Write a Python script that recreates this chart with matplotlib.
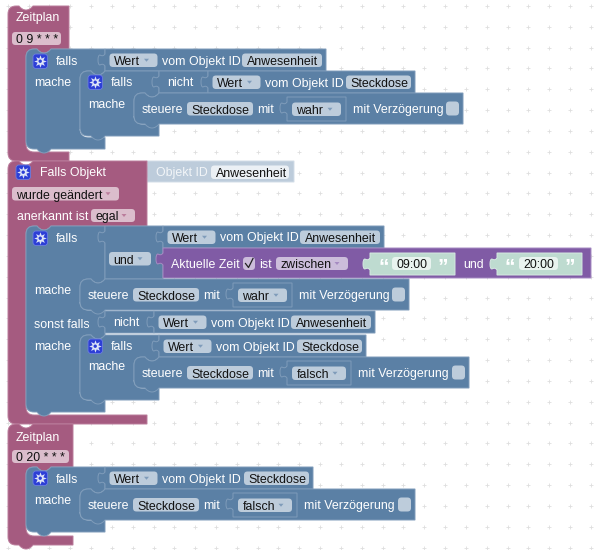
# -*- coding: utf-8 -*-
# Blockly-Skript (Zeitplan / Falls Objekt) als Zeichnung nachgebaut
import matplotlib
matplotlib.use("Agg")
import matplotlib.pyplot as plt
import numpy as np
from matplotlib.patches import FancyBboxPatch, PathPatch, Circle, Polygon
from matplotlib.path import Path

plt.rcParams['font.family'] = ['Liberation Sans', 'DejaVu Sans']

# =============================================================================
# TEXTE
# =============================================================================
ZEITPLAN_1 = '0 9 * * *'
ZEITPLAN_2 = '0 20 * * *'
OBJ_ANWESEND = 'Anwesenheit'
OBJ_DOSE = 'Steckdose'
WAHR = 'wahr'
FALSCH = 'falsch'
VERZOEGERUNG = 'mit Verzögerung'
ZEIT_VON = '09:00'
ZEIT_BIS = '20:00'

# Farben
PINK, PINK_EDGE, PINK_FIELD = '#a55b80', '#bb7d9c', '#dbbdcc'
BLUE, BLUE_EDGE, BLUE_FIELD = '#5b80a5', '#7f9cba', '#bdccdb'
LILA, LILA_EDGE, LILA_FIELD = '#805ba5', '#a68bc2', '#ccbddb'
GREEN, GREEN_EDGE, GREEN_FIELD = '#bedbd0', '#d6e9e2', '#e9f3ef'
SHADOW, SHADOW_EDGE = '#bdccdb', '#d3deE8'
FS = 8.9

fig = plt.figure(figsize=(5.98, 5.50), dpi=100)
ax = fig.add_axes([0, 0, 1, 1])
ax.set_xlim(0, 598)
ax.set_ylim(550, 0)
ax.axis('off')

z = 10


def nz():
    global z
    z += 1
    return z


def block_path(x0, y0, xr, y1, arms=(), xi=None, bump=True, notch=True):
    """Umriss eines Blocks, arms sind die (y_oben, y_unten) der Einzuege."""
    v = [(x0, y0 + 8)]
    c = [Path.MOVETO]

    def line(x, y):
        v.append((x, y))
        c.append(Path.LINETO)

    def curve(cx, cy, x, y):
        v.extend([(cx, cy), (x, y)])
        c.extend([Path.CURVE3, Path.CURVE3])

    curve(x0, y0, x0 + 8, y0)
    if notch:
        line(x0 + 11, y0)
        curve(x0 + 14, y0 + 4, x0 + 18, y0 + 4)
        curve(x0 + 22, y0 + 4, x0 + 25, y0)
    line(xr, y0)
    for ya, yb in arms:
        line(xr, ya)
        line(xi + 25, ya)
        curve(xi + 22, ya + 4, xi + 18, ya + 4)
        curve(xi + 14, ya + 4, xi + 11, ya)
        line(xi + 8, ya)
        curve(xi, ya, xi, ya + 8)
        line(xi, yb - 8)
        curve(xi, yb, xi + 8, yb)
        line(xr, yb)
    line(xr, y1)
    if bump:
        line(x0 + 25, y1)
        curve(x0 + 22, y1 + 4, x0 + 18, y1 + 4)
        curve(x0 + 14, y1 + 4, x0 + 11, y1)
    line(x0 + 8, y1)
    curve(x0, y1, x0, y1 - 8)
    v.append((x0, y0 + 8))
    c.append(Path.CLOSEPOLY)
    return Path(v, c)


def white_strip(xi, yb):
    # heller Streifen unter dem eingehaengten Block
    t = np.linspace(0, np.pi / 2, 10)
    xs = list(xi + 8 - 7 * np.cos(t)) + [xi + 26]
    ys = list(yb - 8 + 7 * np.sin(t)) + [yb - 1]
    ax.plot(xs, ys, color='white', lw=1.8, solid_capstyle='butt', zorder=nz())


def stmt(x0, y0, xr, y1, fc, ec, arms=(), xi=None, bump=True, white=False):
    ax.add_patch(PathPatch(block_path(x0, y0, xr, y1, arms, xi, bump),
                           fc=fc, ec=ec, lw=0.7, zorder=nz()))
    if white:
        for ya, yb in arms:
            white_strip(xi, yb)


def value_block(x0, y0, x1, y1, fc, ec):
    t = y0 + 5
    v = [(x0, y0), (x1, y0), (x1, y1), (x0, y1), (x0, t + 12),
         (x0 - 2, t + 9), (x0 - 5, t + 11), (x0 - 7, t + 11), (x0 - 7, t + 6), (x0 - 7, t + 1),
         (x0 - 5, t + 1), (x0 - 2, t + 3), (x0, t), (x0, y0)]
    c = [Path.MOVETO, Path.LINETO, Path.LINETO, Path.LINETO, Path.LINETO,
         Path.CURVE3, Path.CURVE3, Path.CURVE3, Path.CURVE3, Path.CURVE3,
         Path.CURVE3, Path.CURVE3, Path.CURVE3, Path.CLOSEPOLY]
    ax.add_patch(PathPatch(Path(v, c), fc=fc, ec=ec, lw=0.7, zorder=nz()))


def label(x, y, s, color='white', **kw):
    ax.text(x, y, s, color=color, fontsize=kw.pop('fontsize', FS), ha='left',
            va='center_baseline', zorder=nz(), **kw)


def field(x0, y0, x1, y1, s=None, fc=BLUE_FIELD, arrow=None, tx=4.5):
    ax.add_patch(FancyBboxPatch((x0 + 3, y0 + 3), x1 - x0 - 6, y1 - y0 - 6,
                                boxstyle='round,pad=3,rounding_size=3.5', fc=fc, ec='none', zorder=nz()))
    if s:
        label(x0 + tx, (y0 + y1) / 2 + 0.3, s, color='#111111')
    if arrow:
        ym = (y0 + y1) / 2
        ax.add_patch(Polygon([(x1 - 13.5, ym - 1.5), (x1 - 8.5, ym - 1.5), (x1 - 11, ym + 1.5)],
                             fc=arrow, ec='none', zorder=nz()))


def gear(x, y):
    ax.add_patch(FancyBboxPatch((x + 2, y + 2), 10.5, 10.5, boxstyle='round,pad=2,rounding_size=3',
                                fc='#2d3fd6', ec='#6c7fe0', lw=0.6, zorder=nz()))
    cx, cy = x + 7.2, y + 7.2
    ax.plot([cx], [cy], marker=(8, 1, 0), ms=9, color='#dfe6f8', mew=0, zorder=nz())
    ax.add_patch(Circle((cx, cy), 1.7, fc='#2d3fd6', ec='none', zorder=nz()))


def wert(x, y, name, x1):
    value_block(x, y, x1, y + 22, BLUE, BLUE_EDGE)
    field(x + 4.5, y + 4.5, x + 52.5, y + 18, 'Wert', arrow=BLUE_EDGE)
    label(x + 57, y + 11, 'vom Objekt ID')
    breite = 80 if name == OBJ_ANWESEND else 65
    field(x1 - 4 - breite, y + 4.5, x1 - 4, y + 18, name)


def nicht(x, y, x1):
    value_block(x, y, x1, y + 22, BLUE, BLUE_EDGE)
    label(x + 8, y + 11, 'nicht')


def steuere(x, y, x1, wert_txt, bw):
    """set-Block: Text, gesteckter Wahrheitswert, Haekchenfeld."""
    ax.add_patch(PathPatch(block_path(x, y, x1, y + 31), fc=BLUE, ec=BLUE_EDGE, lw=0.7, zorder=nz()))
    label(x + 8, y + 15.5, 'steuere')
    field(x + 53, y + 9, x + 119, y + 22.5, OBJ_DOSE)
    label(x + 123.5, y + 15.5, 'mit')
    value_block(x + 153, y + 4, x + 153 + bw, y + 28, BLUE, BLUE_EDGE)
    field(x + 158, y + 9.5, x + 153 + bw - 5, y + 23, wert_txt, arrow=BLUE_EDGE)
    label(x + 153 + bw + 7, y + 15.5, VERZOEGERUNG)
    field(x1 - 17, y + 8.5, x1 - 4, y + 22.5)


# =============================================================================
# RASTERPUNKTE
# =============================================================================
gx, gy = np.meshgrid(7.7 + 20.83 * np.arange(29), 6 + 20.83 * np.arange(27))
ax.plot(gx.ravel(), gy.ravel(), ls='none', marker='+', ms=3, mew=0.6, color='#dedede', zorder=1)

# =============================================================================
# ERSTER ZEITPLAN
# =============================================================================
stmt(8, 6, 69, 161, PINK, PINK_EDGE, arms=[(49, 152)], xi=26, bump=False)
label(16, 17, 'Zeitplan')
field(12, 32, 61, 45, ZEITPLAN_1, fc=PINK_FIELD)

stmt(26, 49, 105, 149, BLUE, BLUE_EDGE, arms=[(71, 137)], xi=80, white=True)
gear(33, 54)
label(56, 60.5, 'falls')
label(34, 81, 'mache')
wert(105, 49, OBJ_ANWESEND, 326)

stmt(80, 71, 159, 136, BLUE, BLUE_EDGE, arms=[(93, 124)], xi=134, white=True)
gear(88, 75)
label(111, 82, 'falls')
label(88, 103, 'mache')
nicht(159, 71, 208)
wert(208, 71, OBJ_DOSE, 415)
steuere(134, 93, 463, WAHR, 59)

# =============================================================================
# FALLS OBJEKT
# =============================================================================
value_block(147, 161, 294, 182, SHADOW, SHADOW_EDGE)
stmt(8, 161, 147, 424, PINK, PINK_EDGE, arms=[(226, 415)], xi=26, bump=False)
gear(16, 165)
label(40, 171.5, 'Falls Objekt')
label(156, 171.5, 'Objekt ID', color='#f2f5f8')
field(211, 165.5, 289, 179, OBJ_ANWESEND, fc='#ebf0f5')
field(12, 187, 119, 200.5, 'wurde geändert', fc=PINK_FIELD, arrow=PINK_EDGE)
label(17, 215, 'anerkannt ist')
field(91, 209, 135, 222, 'egal', fc=PINK_FIELD, arrow=PINK_EDGE)

stmt(26, 226, 105, 412, BLUE, BLUE_EDGE, arms=[(279, 310), (335, 400)], xi=80, white=True)
gear(33, 231)
label(56, 237, 'falls')
label(34, 289, 'mache')
label(34, 324, 'sonst falls')
label(34, 345, 'mache')

# und-Block mit Zeitabfrage
value_block(105, 226, 163, 279, BLUE, BLUE_EDGE)
field(109, 252, 151, 265.5, 'und', arrow=BLUE_EDGE)
wert(163, 226, OBJ_ANWESEND, 384)
value_block(163, 248, 591, 278, LILA, LILA_EDGE)
label(171, 263, 'Aktuelle Zeit')
field(243, 257, 255, 270, fc=LILA_FIELD)
ax.plot([245.5, 248.5, 253], [263.5, 267.5, 258.5], color='#222222', lw=0.9, zorder=nz())
label(259, 263, 'ist')
field(276, 257, 348, 270, 'zwischen', fc=LILA_FIELD, arrow=LILA_EDGE)
for x0, zeit in ((370, ZEIT_VON), (497, ZEIT_BIS)):
    value_block(x0, 253, x0 + 85, 275, GREEN, GREEN_EDGE)
    label(x0 + 8, 264.5, '“', fontsize=15, fontweight='bold')
    field(x0 + 22, 257, x0 + 61, 270, zeit, fc=GREEN_FIELD)
    label(x0 + 67, 264.5, '”', fontsize=15, fontweight='bold')
label(463, 263, 'und')

steuere(80, 279, 409, WAHR, 59)
nicht(105, 311, 154)
wert(154, 311, OBJ_ANWESEND, 375)

stmt(80, 335, 159, 400, BLUE, BLUE_EDGE, arms=[(357, 388)], xi=134, white=True)
gear(88, 339)
label(111, 346, 'falls')
label(88, 366, 'mache')
wert(159, 335, OBJ_DOSE, 366)
steuere(134, 357, 469, FALSCH, 64)

# =============================================================================
# ZWEITER ZEITPLAN
# =============================================================================
stmt(8, 424, 73, 545, PINK, PINK_EDGE, arms=[(467, 536)], xi=26)
label(16, 436, 'Zeitplan')
field(12, 450, 69, 463, ZEITPLAN_2, fc=PINK_FIELD)

stmt(26, 467, 105, 532, BLUE, BLUE_EDGE, arms=[(489, 520)], xi=80, white=True)
gear(33, 471)
label(56, 478.5, 'falls')
label(34, 500, 'mache')
wert(105, 467, OBJ_DOSE, 313)
steuere(80, 489, 415, FALSCH, 64)

fig.savefig('out.png', dpi=100, facecolor='white')
